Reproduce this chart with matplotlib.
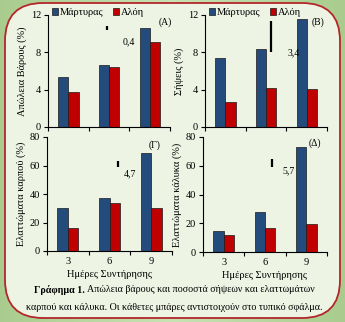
import numpy as np
import matplotlib
matplotlib.use('Agg')
import matplotlib.pyplot as plt
from matplotlib.patches import FancyBboxPatch

plt.rcParams['font.family'] = ['Liberation Serif', 'DejaVu Serif']
plt.rcParams['font.size'] = 7

# Data
days = ['3', '6', '9']
series_names = ['Μάρτυρας', 'Αλόη']
weight_loss = [[5.4, 6.6, 10.6], [3.8, 6.4, 9.1]]
decay = [[7.4, 8.4, 11.6], [2.7, 4.2, 4.1]]
fruit_defects = [[30, 37, 69], [16, 33.5, 30]]
calyx_defects = [[14.5, 27.5, 73], [12, 16.5, 19.5]]
se_values = [0.4, 3.4, 4.7, 5.7]
se_labels = ['0,4', '3,4', '4,7', '5,7']
panel_tags = ['(A)', '(B)', '(Γ)', '(Δ)']
ylabels = ['Απώλεια Βάρους (%)', 'Σήψεις (%)', 'Ελαττώματα καρπού (%)', 'Ελαττώματα κάλυκα (%)']
xlabel = 'Ημέρες Συντήρησης'
caption_bold = 'Γράφημα 1.'
caption_1 = ' Απώλεια βάρους και ποσοστά σήψεων και ελαττωμάτων'
caption_2 = 'καρπού και κάλυκα. Οι κάθετες μπάρες αντιστοιχούν στο τυπικό σφάλμα.'

colors = ['#234b7c', '#c00000']

W, H = 345, 322
fig = plt.figure(figsize=(W / 100, H / 100), dpi=100)
fig.patch.set_facecolor('#b4d49c')

# background frame
bg = fig.add_axes([0, 0, 1, 1])
bg.set_xlim(0, W)
bg.set_ylim(H, 0)
bg.axis('off')
grad = np.linspace(0, 1, 256).reshape(1, -1)
bg.imshow(grad, extent=[0, W, H, 0], cmap=matplotlib.colors.LinearSegmentedColormap.from_list(
    'g', ['#a9cc8e', '#c8e2b4', '#a9cc8e']), aspect='auto', zorder=0)
box = FancyBboxPatch((5, 3), 335, 315, boxstyle='round,pad=0,rounding_size=38',
                     facecolor='#eef4e4', edgecolor='#b3262a', linewidth=1.3, zorder=1)
bg.add_patch(box)


def px_axes(left, top, right, bottom):
    return fig.add_axes([left / W, 1 - bottom / H, (right - left) / W, (bottom - top) / H])


panels = [
    (px_axes(48, 15, 170, 127), weight_loss, [0, 4, 8, 12], 12,
     (0.95, 10.6), (1.34, 9.1), (2.38, 11.25)),
    (px_axes(205, 15, 327, 127), decay, [0, 4, 8, 12], 12,
     (1.12, 9.7), (1.52, 7.9), (2.28, 11.25)),
    (px_axes(47, 137, 172, 251), fruit_defects, [0, 20, 40, 60, 80], 80,
     (1.2, 61), (1.33, 54.5), (2.09, 74.5)),
    (px_axes(203, 137, 327, 252), calyx_defects, [0, 20, 40, 60, 80], 80,
     (1.17, 62), (1.42, 56.5), (2.21, 76)),
]

x = np.arange(len(days))
w = 0.25
for i, (ax, data, yt, ymax, err_pos, lab_pos, tag_pos) in enumerate(panels):
    ax.set_facecolor('none')
    for j, vals in enumerate(data):
        ax.bar(x + (j - 0.5) * w, vals, w, color=colors[j], edgecolor='#1a1a1a',
               linewidth=0.5, label=series_names[j])
    ax.set_xlim(-0.5, 2.5)
    ax.set_ylim(0, ymax)
    ax.set_yticks(yt)
    ax.set_xticks([-0.5, 0.5, 1.5, 2.5])
    ax.set_xticklabels([])
    ax.tick_params(axis='both', direction='out', length=3, width=0.8, pad=2, labelsize=7.5)
    for s in ['top', 'right']:
        ax.spines[s].set_visible(False)
    for s in ['left', 'bottom']:
        ax.spines[s].set_linewidth(0.8)
    ax.set_ylabel(ylabels[i], fontsize=7.5, labelpad=3)
    ax.vlines(err_pos[0], err_pos[1] - se_values[i] / 2, err_pos[1] + se_values[i] / 2,
              color='black', linewidth=1.6)
    ax.text(lab_pos[0], lab_pos[1], se_labels[i], fontsize=7, ha='left', va='center')
    ax.text(tag_pos[0], tag_pos[1], panel_tags[i], fontsize=7, ha='center', va='center')
    if i >= 2:
        for k, d in enumerate(days):
            ax.text(k, -0.055 * ymax, d, ha='center', va='top', fontsize=7.5)
        ax.text(1, -0.165 * ymax, xlabel, ha='center', va='top', fontsize=7.5)
    else:
        ax.legend(loc='upper left', bbox_to_anchor=(0.0, 1.1), ncol=2, frameon=False,
                  handlelength=0.6, handleheight=0.6, handletextpad=0.15,
                  columnspacing=0.9, fontsize=7.5, borderaxespad=0)

# caption
fig.canvas.draw()
r = fig.canvas.get_renderer()
t1 = bg.text(34, 290, caption_bold, fontsize=7.2, fontweight='bold', ha='left', va='center')
ext = t1.get_window_extent(renderer=r)
bg.text(34 + ext.width, 290, caption_1, fontsize=7.2, ha='left', va='center')
bg.text(174, 308, caption_2, fontsize=7.2, ha='center', va='center')

fig.savefig('out.png', dpi=100, facecolor=fig.get_facecolor())
